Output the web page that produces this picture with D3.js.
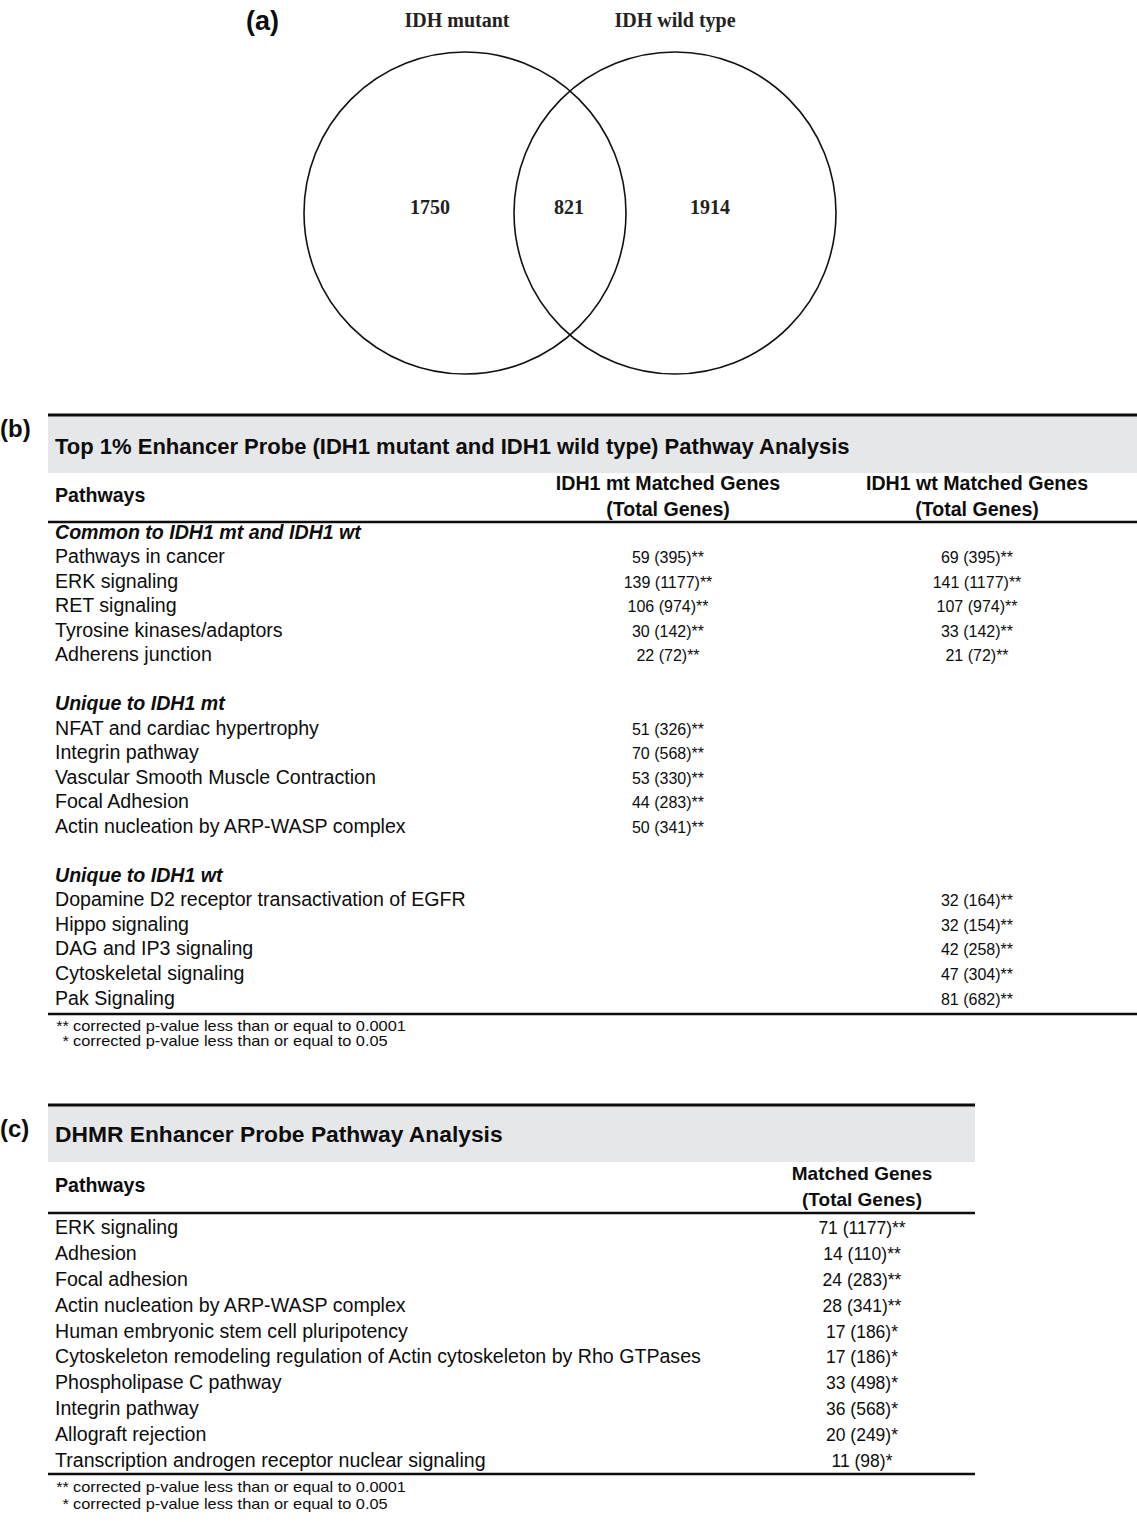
<!DOCTYPE html>
<html>
<head>
<meta charset="utf-8">
<script src="https://cdn.jsdelivr.net/npm/d3@7"></script>
<style>
  html, body { margin: 0; padding: 0; background: #fff; }
  svg { display: block; }
</style>
</head>
<body>
<svg id="fig" width="1137" height="1522"></svg>
<script>
// ---------- (a) Venn diagram ----------
const vennSets = ["IDH mutant", "IDH wild type"];
const vennCounts = [1750, 821, 1914];   // mutant only, shared, wild type only

// ---------- (b) Top 1% enhancer probe pathway table ----------
const bTitle = "Top 1% Enhancer Probe (IDH1 mutant and IDH1 wild type) Pathway Analysis";
const bColumns = ["IDH1 mt Matched Genes", "IDH1 wt Matched Genes"];
const bGroups = ["Common to IDH1 mt and IDH1 wt", "Unique to IDH1 mt", "Unique to IDH1 wt"];
const bGroupOf = [0, 0, 0, 0, 0, 1, 1, 1, 1, 1, 2, 2, 2, 2, 2];
const bPathways = [
  "Pathways in cancer", "ERK signaling", "RET signaling", "Tyrosine kinases/adaptors", "Adherens junction",
  "NFAT and cardiac hypertrophy", "Integrin pathway", "Vascular Smooth Muscle Contraction", "Focal Adhesion",
  "Actin nucleation by ARP-WASP complex",
  "Dopamine D2 receptor transactivation of EGFR", "Hippo signaling", "DAG and IP3 signaling",
  "Cytoskeletal signaling", "Pak Signaling"
];
const bMtGenes = [59, 139, 106, 30, 22, 51, 70, 53, 44, 50, null, null, null, null, null];
const bMtTotal = [395, 1177, 974, 142, 72, 326, 568, 330, 283, 341, null, null, null, null, null];
const bWtGenes = [69, 141, 107, 33, 21, null, null, null, null, null, 32, 32, 42, 47, 81];
const bWtTotal = [395, 1177, 974, 142, 72, null, null, null, null, null, 164, 154, 258, 304, 682];
const bSignif = ["**", "**", "**", "**", "**", "**", "**", "**", "**", "**", "**", "**", "**", "**", "**"];

// ---------- (c) DHMR enhancer probe pathway table ----------
const cTitle = "DHMR Enhancer Probe Pathway Analysis";
const cColumn = "Matched Genes";
const cPathways = [
  "ERK signaling", "Adhesion", "Focal adhesion", "Actin nucleation by ARP-WASP complex",
  "Human embryonic stem cell pluripotency",
  "Cytoskeleton remodeling regulation of Actin cytoskeleton by Rho GTPases",
  "Phospholipase C pathway", "Integrin pathway", "Allograft rejection",
  "Transcription androgen receptor nuclear signaling"
];
const cGenes = [71, 14, 24, 28, 17, 17, 33, 36, 20, 11];
const cTotal = [1177, 110, 283, 341, 186, 186, 498, 568, 249, 98];
const cSignif = ["**", "**", "**", "**", "*", "*", "*", "*", "*", "*"];

const footnoteMarks = ["**", "*"];
const footnoteTexts = ["corrected p-value less than or equal to 0.0001", "corrected p-value less than or equal to 0.05"];

const SANS = "'Liberation Sans', Arial, Helvetica, sans-serif";
const SERIF = "'Liberation Serif', 'Times New Roman', serif";
const GRAY = "#e6e7e8";
const INK = "#0d0d0d";
const ROW_FS = 19.6;

const svg = d3.select("#fig");

// ---------- Panel (a) ----------
const venn = svg.append("g");
const vx = d3.scaleLinear().domain([0, 1]).range([465, 675]);   // circle centres
const vR = 161, vCy = 213;
venn.selectAll("circle").data(vennSets).join("circle")
  .attr("cx", (d, i) => vx(i)).attr("cy", vCy).attr("r", vR)
  .attr("fill", "none").attr("stroke", "#111").attr("stroke-width", 1.6);
venn.selectAll("text.set").data(vennSets).join("text").attr("class", "set")
  .attr("x", (d, i) => i === 0 ? 457 : 675).attr("y", 27)
  .attr("text-anchor", "middle").attr("font-family", SERIF).attr("font-weight", "bold")
  .attr("font-size", 20).attr("fill", "#222").text(d => d);
const countX = [430, 569, 710];
venn.selectAll("text.count").data(vennCounts).join("text").attr("class", "count")
  .attr("x", (d, i) => countX[i]).attr("y", 214)
  .attr("text-anchor", "middle").attr("font-family", SERIF).attr("font-weight", "bold")
  .attr("font-size", 20).attr("fill", "#222").text(d => d);
svg.append("text").attr("x", 246).attr("y", 30).attr("font-family", SANS).attr("font-weight", "bold")
  .attr("font-size", 27).attr("fill", INK).text("(a)");

// "n (N)**" cell
function valueCell(sel, genes, total, sig) {
  sel.append("tspan").text(`${genes} (${total})`);
  sel.append("tspan").text(sig);
}

// footnotes: glyphs are drawn a little wide, as in the printed table
function footnotes(y0, gap) {
  const g = svg.append("g").attr("font-family", SANS).attr("font-size", 14).attr("fill", INK);
  const fy = d3.scaleLinear().domain([0, 1]).range([y0, y0 + gap]);
  footnoteMarks.forEach((m, i) => {
    g.append("text").attr("transform", `translate(69,${fy(i)}) scale(1.17,1)`)
      .attr("text-anchor", "end").text(m);
    g.append("text").attr("transform", `translate(73,${fy(i)}) scale(1.17,1)`)
      .text(footnoteTexts[i]);
  });
}

// ---------- Panel (b) ----------
const b = svg.append("g");
const bLeft = 48, bRight = 1137;
b.append("rect").attr("x", bLeft).attr("y", 416).attr("width", bRight - bLeft).attr("height", 57).attr("fill", GRAY);
b.append("line").attr("x1", bLeft).attr("x2", bRight).attr("y1", 415).attr("y2", 415).attr("stroke", INK).attr("stroke-width", 3);
b.append("text").attr("x", 55).attr("y", 454).attr("font-family", SANS).attr("font-weight", "bold")
  .attr("font-size", 22).attr("fill", INK).text(bTitle);
svg.append("text").attr("x", 0).attr("y", 437).attr("font-family", SANS).attr("font-weight", "bold")
  .attr("font-size", 24).attr("fill", INK).text("(b)");

const bColX = d3.scaleOrdinal().domain(bColumns).range([668, 977]);
b.append("text").attr("x", 55).attr("y", 502).attr("font-family", SANS).attr("font-weight", "bold")
  .attr("font-size", 19.6).attr("fill", INK).text("Pathways");
bColumns.forEach(c => {
  const t = b.append("text").attr("text-anchor", "middle").attr("font-family", SANS).attr("font-weight", "bold")
    .attr("font-size", 19.6).attr("fill", INK);
  t.append("tspan").attr("x", bColX(c)).attr("y", 490).text(c);
  t.append("tspan").attr("x", bColX(c)).attr("y", 516).text("(Total Genes)");
});
b.append("line").attr("x1", bLeft).attr("x2", bRight).attr("y1", 522).attr("y2", 522).attr("stroke", INK).attr("stroke-width", 2.5);

// row slots: each group = header + 5 rows, then a blank slot
const bY = d3.scaleLinear().domain([0, 19]).range([538.5, 1004.5]);
const slotOfGroup = g => g * 7;
bGroups.forEach((g, gi) => {
  b.append("text").attr("x", 55).attr("y", bY(slotOfGroup(gi))).attr("font-family", SANS)
    .attr("font-weight", "bold").attr("font-style", "italic").attr("font-size", ROW_FS).attr("fill", INK).text(g);
});
const bRowSlot = bPathways.map((p, i) => {
  const g = bGroupOf[i];
  const within = bGroupOf.slice(0, i).filter(x => x === g).length;
  return slotOfGroup(g) + 1 + within;
});
b.selectAll("text.path").data(bPathways).join("text").attr("class", "path")
  .attr("x", 55).attr("y", (d, i) => bY(bRowSlot[i])).attr("font-family", SANS)
  .attr("font-size", ROW_FS).attr("fill", INK).text(d => d);
bPathways.forEach((p, i) => {
  if (bMtGenes[i] != null) {
    b.append("text").attr("x", bColX(bColumns[0])).attr("y", bY(bRowSlot[i])).attr("text-anchor", "middle")
      .attr("font-family", SANS).attr("font-size", 16).attr("fill", INK)
      .call(valueCell, bMtGenes[i], bMtTotal[i], bSignif[i]);
  }
  if (bWtGenes[i] != null) {
    b.append("text").attr("x", bColX(bColumns[1])).attr("y", bY(bRowSlot[i])).attr("text-anchor", "middle")
      .attr("font-family", SANS).attr("font-size", 16).attr("fill", INK)
      .call(valueCell, bWtGenes[i], bWtTotal[i], bSignif[i]);
  }
});
b.append("line").attr("x1", bLeft).attr("x2", bRight).attr("y1", 1014).attr("y2", 1014).attr("stroke", INK).attr("stroke-width", 2.5);
footnotes(1031, 15);

// ---------- Panel (c) ----------
const c = svg.append("g");
const cLeft = 48, cRight = 975;
c.append("rect").attr("x", cLeft).attr("y", 1106).attr("width", cRight - cLeft).attr("height", 56).attr("fill", GRAY);
c.append("line").attr("x1", cLeft).attr("x2", cRight).attr("y1", 1105).attr("y2", 1105).attr("stroke", INK).attr("stroke-width", 3);
c.append("text").attr("x", 55).attr("y", 1142).attr("font-family", SANS).attr("font-weight", "bold")
  .attr("font-size", 22.8).attr("fill", INK).text(cTitle);
svg.append("text").attr("x", 0).attr("y", 1137).attr("font-family", SANS).attr("font-weight", "bold")
  .attr("font-size", 24).attr("fill", INK).text("(c)");

const cColX = 862;
c.append("text").attr("x", 55).attr("y", 1192).attr("font-family", SANS).attr("font-weight", "bold")
  .attr("font-size", 19.6).attr("fill", INK).text("Pathways");
const ch = c.append("text").attr("text-anchor", "middle").attr("font-family", SANS).attr("font-weight", "bold")
  .attr("font-size", 19).attr("fill", INK);
ch.append("tspan").attr("x", cColX).attr("y", 1180).text(cColumn);
ch.append("tspan").attr("x", cColX).attr("y", 1206).text("(Total Genes)");
c.append("line").attr("x1", cLeft).attr("x2", cRight).attr("y1", 1213).attr("y2", 1213).attr("stroke", INK).attr("stroke-width", 2.5);

const cY = d3.scaleLinear().domain([0, 9]).range([1234, 1467]);
c.selectAll("text.path").data(cPathways).join("text").attr("class", "path")
  .attr("x", 55).attr("y", (d, i) => cY(i)).attr("font-family", SANS)
  .attr("font-size", ROW_FS).attr("fill", INK).text(d => d);
cPathways.forEach((p, i) => {
  c.append("text").attr("x", cColX).attr("y", cY(i)).attr("text-anchor", "middle")
    .attr("font-family", SANS).attr("font-size", 17.5).attr("fill", INK)
    .call(valueCell, cGenes[i], cTotal[i], cSignif[i]);
});
c.append("line").attr("x1", cLeft).attr("x2", cRight).attr("y1", 1474).attr("y2", 1474).attr("stroke", INK).attr("stroke-width", 2.5);
footnotes(1492, 17);
</script>
</body>
</html>
